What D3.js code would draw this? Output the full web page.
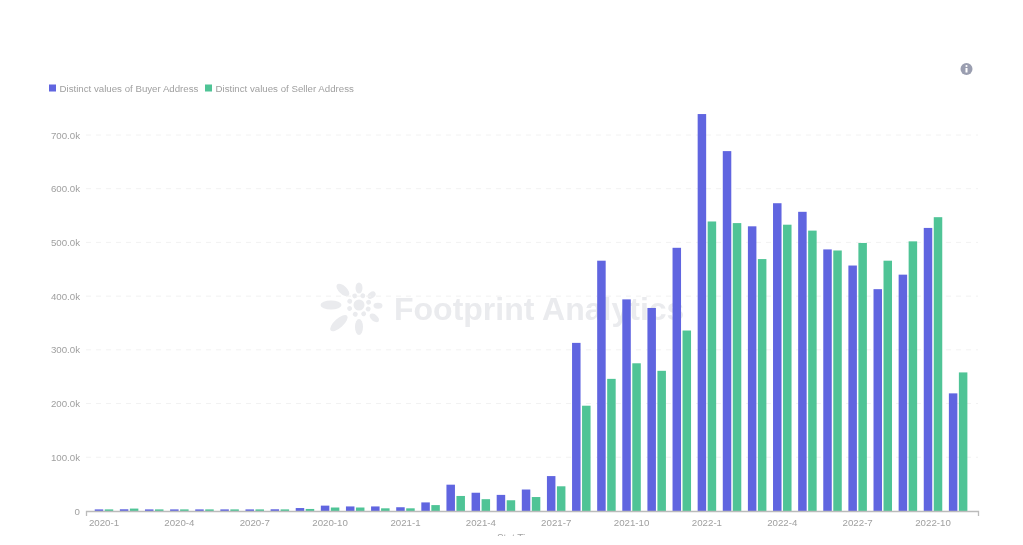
<!DOCTYPE html>
<html><head><meta charset="utf-8">
<script src="https://cdn.jsdelivr.net/npm/d3@7"></script>
<style>html,body{margin:0;background:#fff;overflow:hidden}svg{display:block;filter:blur(0.4px)}text{font-family:"Liberation Sans",Arial,sans-serif}</style>
</head><body><svg id="c" width="1023" height="545"></svg>
<script>
const months = ["2020-1","2020-2","2020-3","2020-4","2020-5","2020-6","2020-7","2020-8","2020-9","2020-10","2020-11","2020-12","2021-1","2021-2","2021-3","2021-4","2021-5","2021-6","2021-7","2021-8","2021-9","2021-10","2021-11","2021-12","2022-1","2022-2","2022-3","2022-4","2022-5","2022-6","2022-7","2022-8","2022-9","2022-10","2022-11"];
const buyer = [3000,3200,3000,3000,3000,3000,3000,3200,5500,10000,8500,8500,7000,16000,49000,34000,30000,40000,65000,313000,466000,394000,378000,490000,739000,670000,530000,573000,557000,487000,457000,413000,440000,527000,219000];
const seller = [3000,4500,3000,3000,3000,3000,3000,3000,3800,6500,6500,5000,5000,11000,28000,22000,20000,26000,46000,196000,246000,275000,261000,336000,539000,536000,469000,533000,522000,485000,499000,466000,502000,547000,258000];
const yTicks = [0,100000,200000,300000,400000,500000,600000,700000];
const xLabels = months.filter((m,i)=>i%3===0);
const seriesNames = ["Distinct values of Buyer Address","Distinct values of Seller Address"];
const seriesColors = ["#6065e0","#4fc496"];
const textGrey = "#a0a0a0";

const svg = d3.select("#c");
const x = d3.scaleBand().domain(months).range([91.44,970.7]);
const y = d3.scaleLinear().domain([0,700000]).range([511,135]);
const inner = d3.scaleBand().domain([0,1]).range([3.3,21.8]).paddingInner(0.15);
const fmt = v => v===0 ? "0" : d3.format(".1f")(v/1000)+"k";

// watermark (behind marks)
const wm = svg.append("g").attr("fill","#eaebee");
wm.append("text").attr("x",394).attr("y",320).attr("font-family","Inter, 'Open Sans', sans-serif").attr("font-size",32).attr("font-weight",800).text("Footprint Analytics");
const petalAngle = [0,52,92,130,180,228,270,313];
const petalDist  = [17,16,19,20,22,27,28,22];
const petalLong  = [5.5,4.5,4.5,5.5,8,11,10.5,8];
const petalWide  = [3.5,3,3,3.2,4,4.5,4.5,4];
const flower = wm.append("g").attr("transform","translate(359,305)");
flower.selectAll("ellipse").data(petalAngle).join("ellipse")
  .attr("cy",(d,i)=>-petalDist[i]).attr("rx",(d,i)=>petalWide[i]).attr("ry",(d,i)=>petalLong[i])
  .attr("transform",d=>`rotate(${d})`);
flower.selectAll("circle.s").data(petalAngle).join("circle").attr("class","s").attr("r",2.4).attr("cy",-10).attr("transform",d=>`rotate(${d+22})`);
flower.append("circle").attr("r",5.5);

// grid
svg.append("g").selectAll("line").data(yTicks.slice(1)).join("line")
  .attr("x1",86).attr("x2",978).attr("y1",d=>y(d)).attr("y2",d=>y(d))
  .attr("stroke","#f2f2f2").attr("stroke-dasharray","5 5");

// y axis labels
const yAxis = svg.append("g").attr("transform","translate(80,0)").call(d3.axisLeft(y).tickValues(yTicks).tickFormat(fmt).tickSize(0).tickPadding(0));
yAxis.select(".domain").remove();
yAxis.selectAll("text").attr("fill",textGrey).attr("font-size",9.7).style("font-family","'Liberation Sans',Arial,sans-serif");

// bars
[buyer,seller].forEach((vals,s)=>{
  svg.append("g").attr("fill",seriesColors[s]).selectAll("rect").data(vals).join("rect")
    .attr("x",(d,i)=>x(months[i])+inner(s)).attr("width",inner.bandwidth())
    .attr("y",d=>y(d)).attr("height",d=>511-y(d));
});

// x axis
const xAxis = svg.append("g").attr("transform","translate(0,511)").call(d3.axisBottom(x).tickValues(xLabels).tickSize(0).tickPadding(8));
xAxis.select(".domain").attr("stroke","#bbbbbb").attr("stroke-width",1.3).attr("d","M86.5,5V0.5H978.5V5");
xAxis.selectAll("text").attr("fill",textGrey).attr("font-size",9.7).style("font-family","'Liberation Sans',Arial,sans-serif");

// x title, clipped by the window edge as in the source crop
svg.append("text").attr("x",518).attr("y",542).attr("text-anchor","middle").attr("fill",textGrey).attr("font-size",10).text("Stat Time");
svg.append("rect").attr("x",0).attr("y",536).attr("width",1023).attr("height",9).attr("fill","#fff");

// legend
const lg = svg.append("g");
const lx = [49,205];
seriesNames.forEach((n,i)=>{
  lg.append("rect").attr("x",lx[i]).attr("y",84.5).attr("width",7).attr("height",7).attr("fill",seriesColors[i]);
  lg.append("text").attr("x",lx[i]+10.5).attr("y",91.5).attr("fill",textGrey).attr("font-size",9.7).text(n);
});

// info icon
const info = svg.append("g").attr("transform","translate(966.5,69)");
info.append("circle").attr("r",6).attr("fill","#9a9eb0");
info.append("rect").attr("x",-1).attr("y",-1).attr("width",2).attr("height",4.5).attr("fill","#fff");
info.append("circle").attr("cy",-3).attr("r",1.1).attr("fill","#fff");
</script></body></html>
